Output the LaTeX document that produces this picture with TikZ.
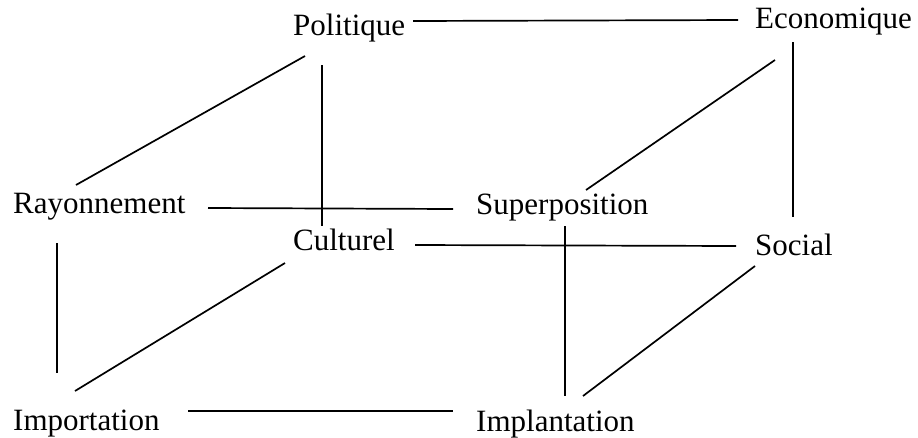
\documentclass[tikz,border=0pt]{standalone}
\usepackage{fontspec}
\setmainfont{Liberation Serif}
\begin{document}
\begin{tikzpicture}[x=1pt,y=-1pt,
  lbl/.style={anchor=base west,inner sep=0pt,font=\fontsize{31}{31}\selectfont},
  edge/.style={line width=1.7pt}]
\useasboundingbox (0,0) rectangle (918,437);
\node[lbl] (pol) at (293,35) {Politique};
\node[lbl] (eco) at (755,28) {Economique};
\node[lbl] (ray) at (13,213) {Rayonnement};
\node[lbl] (sup) at (476,214) {Superposition};
\node[lbl] (cul) at (293,250) {Culturel};
\node[lbl] (soc) at (755,255) {Social};
\node[lbl] (imp) at (13,430) {Importation};
\node[lbl] (impl) at (476,431) {Implantation};
% connector end points
\coordinate (polE) at (413,21);
\coordinate (ecoW) at (738,20);
\coordinate (polSW) at (305,56);
\coordinate (rayNE) at (76,185);
\coordinate (polS) at (322,65);
\coordinate (culN) at (322,226);
\coordinate (ecoSW) at (775,60);
\coordinate (supNE) at (586,190);
\coordinate (ecoS) at (793,42);
\coordinate (socN) at (793,217);
\coordinate (rayE) at (208,208);
\coordinate (supW) at (453,209);
\coordinate (culE) at (415,245);
\coordinate (socW) at (736,246);
\coordinate (rayS) at (57,243);
\coordinate (impN) at (57,373);
\coordinate (culSW) at (285,263);
\coordinate (impNE) at (75,391);
\coordinate (supS) at (565,226);
\coordinate (implN) at (565,396);
\coordinate (socSW) at (755,266);
\coordinate (implNE) at (583,396);
\coordinate (impE) at (188,411);
\coordinate (implW) at (453,411);
\draw[edge] (polE) -- (ecoW);
\draw[edge] (polSW) -- (rayNE);
\draw[edge] (polS) -- (culN);
\draw[edge] (ecoSW) -- (supNE);
\draw[edge] (ecoS) -- (socN);
\draw[edge] (rayE) -- (supW);
\draw[edge] (culE) -- (socW);
\draw[edge] (rayS) -- (impN);
\draw[edge] (culSW) -- (impNE);
\draw[edge] (supS) -- (implN);
\draw[edge] (socSW) -- (implNE);
\draw[edge] (impE) -- (implW);
\end{tikzpicture}
\end{document}
